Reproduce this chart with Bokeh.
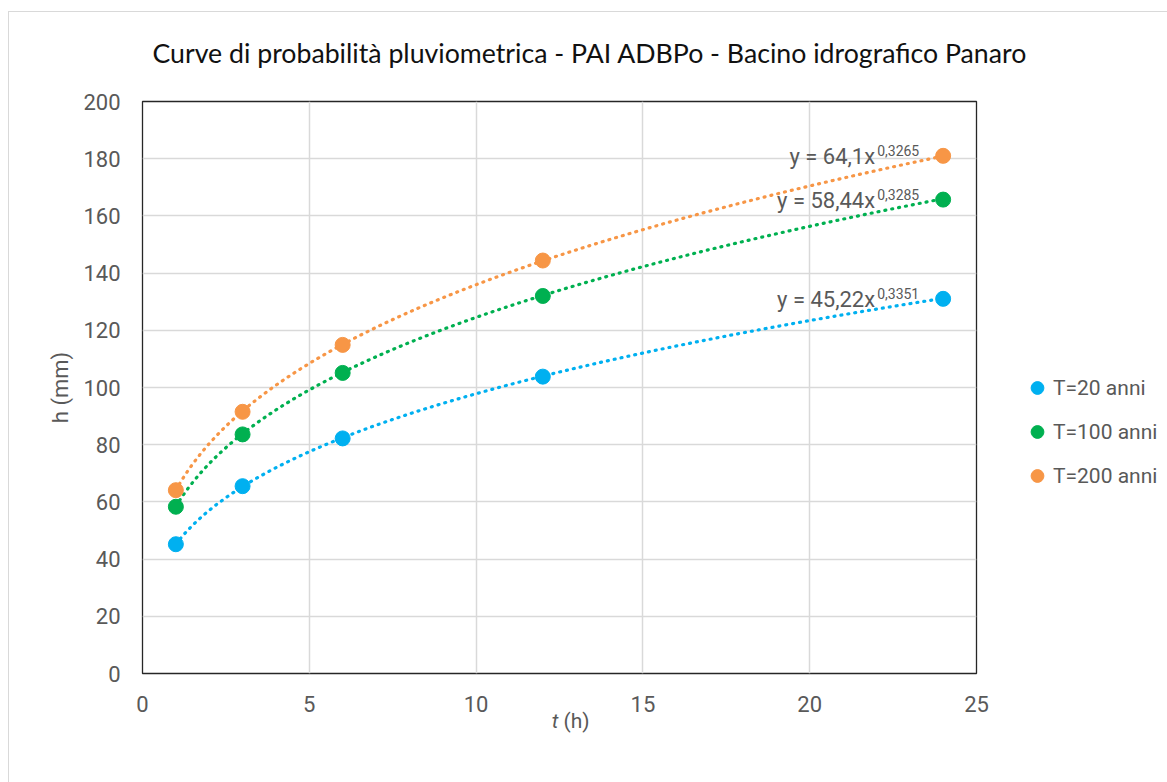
import numpy as np
from bokeh.plotting import figure
from bokeh.models import Label, Legend, LegendItem, FixedTicker, Range1d, ColumnDataSource
from bokeh.embed import file_html
from bokeh.resources import INLINE

# ---- data ----
t_hours = [1, 3, 6, 12, 24]
h_T20 = [45.2, 65.5, 82.2, 103.8, 131.0]
h_T100 = [58.3, 83.6, 105.1, 132.0, 165.7]
h_T200 = [64.1, 91.5, 114.9, 144.4, 181.0]
series_names = ["T=20 anni", "T=100 anni", "T=200 anni"]
series_colors = ["#00B0F0", "#00B050", "#F79646"]
# power trendline coefficients shown on chart: y = a * x^b
coef_a = [45.22, 58.44, 64.1]
coef_b = [0.3351, 0.3285, 0.3265]
x_ticks = [0, 5, 10, 15, 20, 25]
y_ticks = list(range(0, 201, 20))

title_text = "Curve di probabilità pluviometrica - PAI ADBPo - Bacino idrografico Panaro"

TICK_COLOR = "#595959"

p = figure(frame_width=834, frame_height=572,
           min_border_left=142, min_border_right=191,
           min_border_top=101, min_border_bottom=109,
           x_range=Range1d(0, 25), y_range=Range1d(0, 200),
           output_backend="svg", toolbar_location=None)
p.styles = {"background": "linear-gradient(#d9d9d9,#d9d9d9) 8px 11px / 1px calc(100% - 11px) no-repeat, "
                          "linear-gradient(#d9d9d9,#d9d9d9) 8px 11px / calc(100% - 8px) 1px no-repeat, #ffffff"}
p.background_fill_color = "white"
p.border_fill_alpha = 0
p.outline_line_color = "#262626"
p.outline_line_width = 1.3

p.title.text = title_text
p.title.align = "left"
p.title.offset = 10
p.title.standoff = 66
p.title.text_font = "Lato"
p.title.text_font_size = "26.7px"
p.title.text_font_style = "normal"
p.title.text_color = "#111111"

for ax in (p.xaxis[0], p.yaxis[0]):
    ax.axis_line_color = None
    ax.major_tick_line_color = None
    ax.minor_tick_line_color = None
    ax.major_tick_out = 0
    ax.major_tick_in = 0
    ax.major_label_text_font = "Roboto"
    ax.major_label_text_font_size = "22px"
    ax.major_label_text_color = TICK_COLOR

p.xaxis.ticker = FixedTicker(ticks=x_ticks)
p.yaxis.ticker = FixedTicker(ticks=y_ticks)
p.xaxis.major_label_standoff = 22
p.yaxis.major_label_standoff = 22

p.yaxis.axis_label = "h (mm)"
p.yaxis.axis_label_text_font = "Roboto"
p.yaxis.axis_label_text_font_size = "22px"
p.yaxis.axis_label_text_font_style = "normal"
p.yaxis.axis_label_text_color = TICK_COLOR
p.yaxis.axis_label_standoff = 7

p.xgrid.grid_line_color = "#d9d9d9"
p.ygrid.grid_line_color = "#d9d9d9"
p.xgrid.grid_line_width = 1.5
p.ygrid.grid_line_width = 1.5

all_series = [h_T20, h_T100, h_T200]
scatter_renderers = []
for vals, col, a, b in zip(all_series, series_colors, coef_a, coef_b):
    xs = np.linspace(min(t_hours), max(t_hours), 300)
    ys = a * xs ** b
    p.line(xs, ys, line_color=col, line_width=3.2, line_dash="1 6", line_cap="round")
for vals, col in zip(all_series, series_colors):
    src = ColumnDataSource(dict(x=t_hours, y=vals))
    r = p.scatter("x", "y", source=src, size=15, fill_color=col, line_color=col)
    scatter_renderers.append(r)

# trendline equation labels
for vals, col, a, b in zip(all_series, series_colors, coef_a, coef_b):
    main = "y = " + str(a).replace(".", ",") + "x"
    sup = str(b).replace(".", ",")
    p.add_layout(Label(x=t_hours[-1], y=vals[-1], x_offset=-68, y_offset=-1,
                       text=main, text_align="right", text_baseline="alphabetic",
                       text_font="Roboto", text_font_size="22px", text_color=TICK_COLOR))
    p.add_layout(Label(x=t_hours[-1], y=vals[-1], x_offset=-66, y_offset=5,
                       text=sup, text_align="left", text_baseline="alphabetic",
                       text_font="Roboto", text_font_size="14px", text_color=TICK_COLOR))

# x-axis title with italic t (placed in the panel below the frame)
p.add_layout(Label(x=12.5, y=0, x_offset=-1, y_offset=-47, text="t", text_align="right",
                   text_baseline="middle", text_font="Roboto", text_font_size="21px",
                   text_font_style="italic", text_color=TICK_COLOR), "below")
p.add_layout(Label(x=12.5, y=0, x_offset=4, y_offset=-47, text="(h)", text_align="left",
                   text_baseline="middle", text_font="Roboto", text_font_size="21px",
                   text_color=TICK_COLOR), "below")

legend = Legend(items=[LegendItem(label=n, renderers=[r]) for n, r in zip(series_names, scatter_renderers)],
                location=(45, 180), glyph_width=32, glyph_height=35, label_height=35,
                spacing=9, label_standoff=0, padding=0, margin=0,
                border_line_color=None, background_fill_alpha=0,
                label_text_font="Roboto", label_text_font_size="21px", label_text_color=TICK_COLOR)
p.add_layout(legend, "right")

open("out.html", "w").write(file_html(p, INLINE))
